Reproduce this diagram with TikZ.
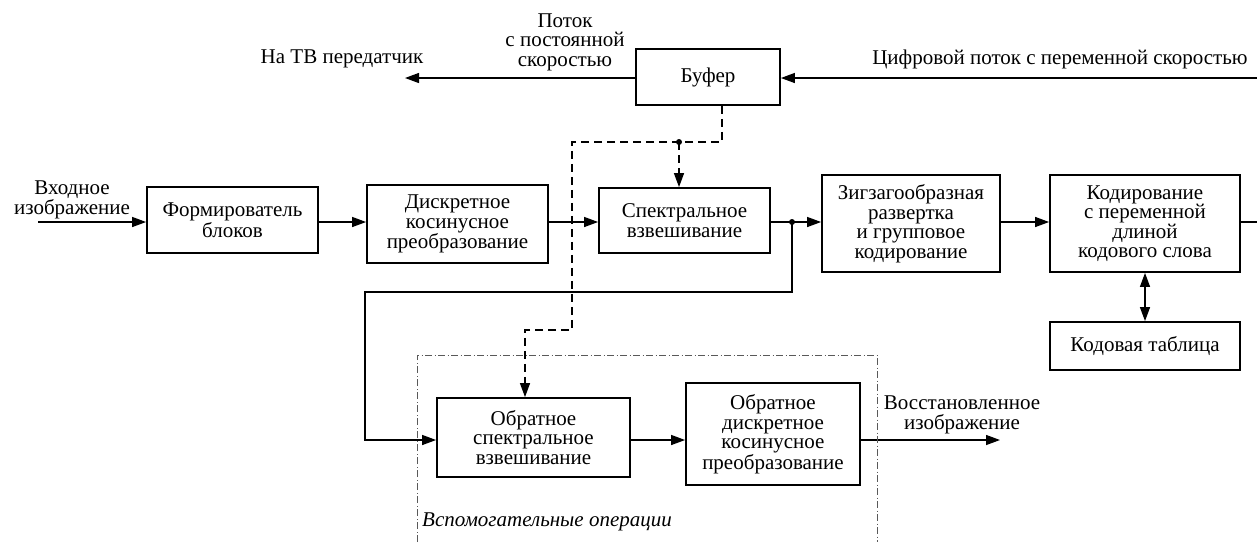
\documentclass[tikz,border=0pt]{standalone}
\usepackage{fontspec}
\setmainfont{Liberation Serif}
\usetikzlibrary{arrows.meta}
\newcommand\dgfont{\fontsize{21}{19.5}\selectfont}
\begin{document}
\begin{tikzpicture}[x=1pt,y=-1pt,
  block/.style={draw,line width=1.8pt,inner sep=0pt,align=center,font=\dgfont},
  lbl/.style={inner sep=0pt,align=center,font=\dgfont},
  conn/.style={line width=1.3pt},
  tip/.tip={Triangle[length=14pt,width=10pt]},
  arr/.style={conn,-tip},
  darr/.style={conn,tip-tip},
  ctrl/.style={line width=1.3pt,dash pattern=on 8pt off 5pt},
  frame/.style={line width=0.9pt,gray!70!black,dash pattern=on 7pt off 2.5pt on 1pt off 2.5pt},
  dot/.style={circle,fill,inner sep=0pt,minimum size=6pt}]
\useasboundingbox (0,0) rectangle (1257,542);

% blocks
\node[block,minimum width=144pt,minimum height=56pt] (buf) at (708,77) {Буфер};
\node[block,minimum width=171pt,minimum height=66pt] (b1) at (232.5,220) {Формирователь\\блоков};
\node[block,minimum width=181pt,minimum height=78pt] (b2) at (457.5,224) {Дискретное\\косинусное\\преобразование};
\node[block,minimum width=171pt,minimum height=65pt] (b3) at (684.5,220.5) {Спектральное\\взвешивание};
\node[block,minimum width=178pt,minimum height=97pt] (b4) at (911,223.5) {Зигзагообразная\\развертка\\и групповое\\кодирование};
\node[block,minimum width=190pt,minimum height=97pt] (b5) at (1145,223.5) {Кодирование\\с переменной\\длиной\\кодового слова};
\node[block,minimum width=190pt,minimum height=48pt] (b6) at (1145,346) {Кодовая таблица};
\node[block,minimum width=193pt,minimum height=79pt] (b7) at (533.5,437.5) {Обратное\\спектральное\\взвешивание};
\node[block,minimum width=174pt,minimum height=102pt] (b8) at (773,434) {Обратное\\дискретное\\косинусное\\преобразование};

% free labels
\node[lbl] (tconst) at (565,42) {Поток\\с постоянной\\скоростью};
\node[lbl] (ttx) at (342,59) {На ТВ передатчик};
\node[lbl] (tvar) at (1060,59) {Цифровой поток с переменной скоростью};
\node[lbl] (tin) at (72,200) {Входное\\изображение};
\node[lbl] (tout) at (962,415) {Восстановленное\\изображение};
\node[lbl,font=\dgfont\itshape] (taux) at (547,522) {Вспомогательные операции};

% coordinates for connectors
\coordinate (inp) at (38,222);
\coordinate (vin) at (1257,78);
\coordinate (tx) at (405,78);
\coordinate (rout) at (1257,222);
\coordinate (j1) at (792,222);
\coordinate (f1) at (792,292);
\coordinate (f2) at (365,292);
\coordinate (f3) at (365,440);
\coordinate (rec) at (1000,440);
\coordinate (d0) at (722,105);
\coordinate (d1) at (722,142);
\coordinate (dj) at (679,142);
\coordinate (d2) at (572,142);
\coordinate (d3) at (572,330);
\coordinate (d4) at (525,330);

% main signal path
\draw[arr] (inp) -- (inp -| b1.west);
\draw[arr] (b1.east |- inp) -- (b2.west |- inp);
\draw[arr] (b2.east |- inp) -- (b3.west |- inp);
\draw[arr] (b3.east |- inp) -- (b4.west |- inp);
\draw[arr] (b4.east |- inp) -- (b5.west |- inp);
\draw[conn] (b5.east |- rout) -- (rout);
\draw[darr] (b5.south) -- (b6.north);

% buffer
\draw[arr] (vin) -- (buf.east |- vin);
\draw[arr] (buf.west |- tx) -- (tx);

% local decoder loop
\draw[arr] (j1) -- (f1) -- (f2) -- (f3) -- (b7.west |- f3);
\draw[arr] (b7.east |- f3) -- (b8.west |- f3);
\draw[arr] (b8.east |- f3) -- (rec);
\node[dot] at (j1) {};

% rate control from the buffer
\draw[ctrl] (buf.south -| d0) -- (d1) -- (d2) -- (d3) -- (d4) -- ([yshift=13pt]d4 |- b7.north);
\draw[ctrl] (dj) -- ([yshift=13pt]dj |- b3.north);
\draw[arr] ([yshift=14pt]d4 |- b7.north) -- (d4 |- b7.north);
\draw[arr] ([yshift=14pt]dj |- b3.north) -- (dj |- b3.north);
\node[dot] at (dj) {};

% auxiliary operations frame
\draw[frame] (417,542) -- (417,355) -- (877,355) -- (877,542);
\end{tikzpicture}
\end{document}
